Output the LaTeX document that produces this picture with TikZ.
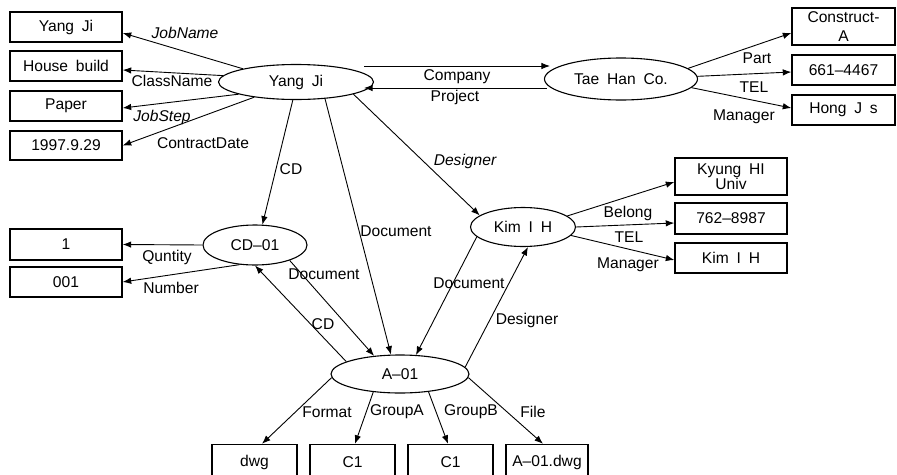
\documentclass[tikz,border=0pt]{standalone}
\usepackage{fontspec}
\setmainfont{Liberation Sans}[WordSpace=1.8]
\usetikzlibrary{arrows.meta,shapes.geometric}
\begin{document}
\begin{tikzpicture}[x=1pt,y=-1pt,
  font=\fontsize{15.6}{16}\selectfont,
  box/.style={draw,line width=1.4pt,rectangle,inner sep=0pt,align=center},
  ell/.style={draw,line width=1.1pt,ellipse,inner sep=0pt},
  conn/.style={line width=0.9pt,-{Latex[length=8.5pt,width=6.5pt]}},
  lbl/.style={inner sep=0pt},
  itl/.style={inner sep=0pt,font=\fontsize{15.6}{16}\selectfont\itshape}]
\useasboundingbox (0,0) rectangle (897,474);
\clip (0,0) rectangle (897,474);
% left boxes
\node[box,minimum width=112pt,minimum height=30pt] (bYang) at (66,27) {Yang Ji};
\node[box,minimum width=112pt,minimum height=30pt] (bHouse) at (66,66) {House build};
\node[box,minimum width=112pt,minimum height=30pt] (bPaper) at (66,106) {Paper};
\node[box,minimum width=112pt,minimum height=29pt] (bDate) at (66,145.5) {1997.9.29};
\node[box,minimum width=112pt,minimum height=31pt] (bQty) at (66,244.5) {1};
\node[box,minimum width=112pt,minimum height=30pt] (bNum) at (66,282) {001};
% right top boxes
\node[box,minimum width=103pt,minimum height=37pt] (bConstruct) at (843.5,26.5) {Construct-\\[3pt]A};
\node[box,minimum width=103pt,minimum height=30pt] (bTel1) at (843.5,70) {661--4467};
\node[box,minimum width=103pt,minimum height=30pt] (bHong) at (843.5,110) {Hong J s};
% Kim boxes
\node[box,minimum width=112pt,minimum height=37pt] (bKyung) at (731,176.5) {Kyung HI\\[-1pt]Univ};
\node[box,minimum width=112pt,minimum height=31pt] (bTel2) at (731,218.5) {762--8987};
\node[box,minimum width=112pt,minimum height=30pt] (bKim) at (731,258) {Kim I H};
% bottom boxes
\node[box,minimum width=85pt,minimum height=35pt] (bDwg) at (254.5,462) {dwg};
\node[box,minimum width=85pt,minimum height=35pt] (bC1a) at (352.5,462) {C1};
\node[box,minimum width=85pt,minimum height=35pt] (bC1b) at (450.5,462) {C1};
\node[box,minimum width=82pt,minimum height=35pt] (bFile) at (547,462) {A--01.dwg};
% ellipses
\node[ell,minimum width=155pt,minimum height=35pt] (eYang) at (296,82) {Yang Ji};
\node[ell,minimum width=153pt,minimum height=42pt] (eTae) at (621,79) {Tae Han Co.};
\node[ell,minimum width=104pt,minimum height=40pt] (eCD) at (255,245) {CD--01};
\node[ell,minimum width=105pt,minimum height=39pt] (eKim) at (523,227) {Kim I H};
\node[ell,minimum width=138pt,minimum height=38pt] (eA) at (400,374) {A--01};
% connectors
\draw[conn] (eYang.166) -- ([yshift=-6pt]bYang.east);
\draw[conn] (eYang.175) -- ([yshift=-4pt]bHouse.east);
\draw[conn] (eYang.-168) -- ([yshift=-2pt]bPaper.east);
\draw[conn] (eYang.-160) -- (bDate.east);
\draw[conn] ([xshift=-10pt,yshift=16pt]eYang.east) -- ([xshift=6pt,yshift=13pt]eTae.west);
\draw[conn] ([xshift=3pt,yshift=-9pt]eTae.west) -- ([xshift=-10pt,yshift=-6pt]eYang.east);
\draw[conn] (eTae.9) -- ([yshift=-6.5pt]bConstruct.west);
\draw[conn] (eTae.2) -- ([yshift=-2pt]bTel1.west);
\draw[conn] (eTae.-7) -- ([yshift=2pt]bHong.west);
\draw[conn] (eYang.-100) -- (eCD.70);
\draw[conn] (eYang.-30) -- (eA.115);
\draw[conn] (eYang.-12) -- (eKim.165);
\draw[conn] (eCD.west) -- (bQty.east);
\draw[conn] (eCD.-128) -- (bNum.east);
\draw[conn] (eCD.-24) -- (eA.145);
\draw[conn] (eA.167) -- (eCD.south);
\draw[conn] (eKim.-168) -- (eA.50);
\draw[conn] (eA.6) -- (eKim.-76);
\draw[conn] (eKim.14) -- ([yshift=-5.5pt]bKyung.west);
\draw[conn] (eKim.east) -- ([yshift=-4.5pt]bTel2.west);
\draw[conn] (eKim.-10) -- ([yshift=-2pt]bKim.west);
\draw[conn] (eA.183) -- ([xshift=7.5pt]bDwg.north);
\draw[conn] (eA.-146) -- ([xshift=2.5pt]bC1a.north);
\draw[conn] (eA.-32) -- ([xshift=-2.5pt]bC1b.north);
\draw[conn] (eA.-3) -- ([xshift=-4pt]bFile.north);
% labels
\node[itl] (lJobName) at (185,33) {JobName};
\node[lbl] (lClassName) at (172,81) {ClassName};
\node[itl] (lJobStep) at (162,117) {JobStep};
\node[lbl] (lContract) at (203,143) {ContractDate};
\node[lbl] (lCompany) at (457,77) {Company};
\node[lbl] (lProject) at (455,97) {Project};
\node[lbl] (lPart) at (757,58) {Part};
\node[lbl] (lTel1) at (754,87) {TEL};
\node[lbl] (lMan1) at (744,117) {Manager};
\node[lbl] (lCD1) at (291,169) {CD};
\node[itl] (lDes1) at (465,161) {Designer};
\node[lbl] (lDoc1) at (396,231) {Document};
\node[lbl] (lQty) at (167,257) {Quntity};
\node[lbl] (lNum) at (171,288) {Number};
\node[lbl] (lDoc2) at (324,274) {Document};
\node[lbl] (lCD2) at (323,324) {CD};
\node[lbl] (lDoc3) at (469,283) {Document};
\node[lbl] (lDes2) at (527,320) {Designer};
\node[lbl] (lBelong) at (628,213) {Belong};
\node[lbl] (lTel2) at (629,237) {TEL};
\node[lbl] (lMan2) at (628,265) {Manager};
\node[lbl] (lFormat) at (327,412) {Format};
\node[lbl] (lGroupA) at (397,412) {GroupA};
\node[lbl] (lGroupB) at (471,412) {GroupB};
\node[lbl] (lFile) at (533,412) {File};
\end{tikzpicture}
\end{document}
